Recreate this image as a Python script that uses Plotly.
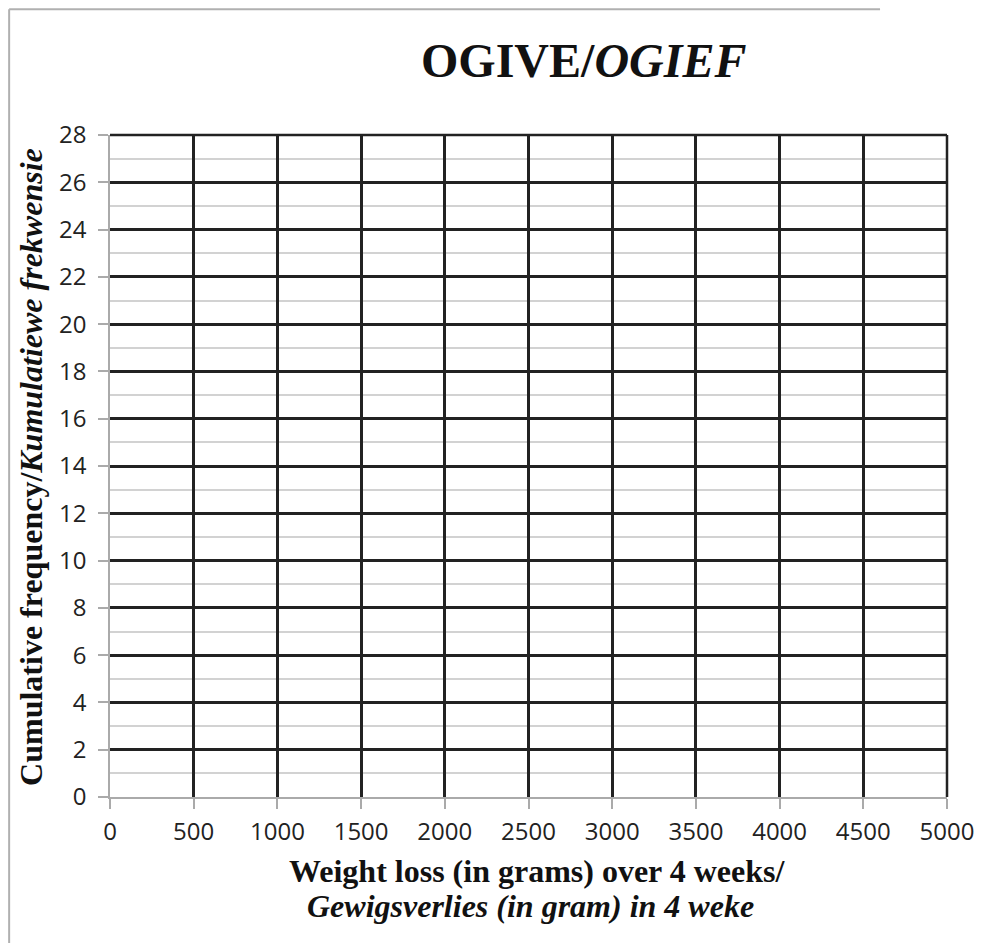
import plotly.graph_objects as go

# Blank ogive grid: axis ranges and tick labels
x_ticks = [0, 500, 1000, 1500, 2000, 2500, 3000, 3500, 4000, 4500, 5000]
y_ticks = [0, 2, 4, 6, 8, 10, 12, 14, 16, 18, 20, 22, 24, 26, 28]
x_range = [0, 5000]
y_range = [0, 28]

title_main = "<b>OGIVE/<i>OGIEF</i></b>"
x_title_1 = "<b>Weight loss (in grams) over 4 weeks/</b>"
x_title_2 = "<b><i>Gewigsverlies (in gram) in 4 weke</i></b>"
y_title = "<b>Cumulative frequency/<i>Kumulatiewe frekwensie</i></b>"

serif = "Liberation Serif, Times New Roman, serif"
tickfont = dict(family="Open Sans, sans-serif", size=24, color="#222")

fig = go.Figure()
fig.add_trace(go.Scatter(x=[], y=[], mode="lines", showlegend=False))

# page body has an 8px margin, so the figure is sized to fit the window
fig.update_layout(
    width=977, height=935,
    margin=dict(l=102, r=38, t=127, b=146),
    paper_bgcolor="white", plot_bgcolor="white",
    showlegend=False,
)

fig.update_xaxes(
    range=x_range, tickvals=x_ticks, ticktext=[str(v) for v in x_ticks],
    showgrid=True, gridcolor="#222", gridwidth=2.5,
    zeroline=False, showline=True, linecolor="#aaa", linewidth=1.5,
    ticks="outside", ticklen=10, tickcolor="#aaa", tickwidth=1.5,
    tickfont=tickfont, ticklabelstandoff=2,
    minor=dict(showgrid=False),
)
fig.update_yaxes(
    range=y_range, tickvals=y_ticks, ticktext=[str(v) for v in y_ticks],
    showgrid=True, gridcolor="#222", gridwidth=2.5,
    zeroline=False, showline=True, linecolor="#aaa", linewidth=1.5,
    ticks="outside", ticklen=10, tickcolor="#aaa", tickwidth=1.5,
    tickfont=tickfont, ticklabelstandoff=7,
    minor=dict(dtick=1, tick0=1, showgrid=True, gridcolor="#d2d2d2", gridwidth=1.5),
)

# frame: dark top and right edges of the plot area
fig.add_shape(type="line", xref="paper", yref="paper", x0=0, x1=1, y0=1, y1=1,
              line=dict(color="#222", width=2.5))
fig.add_shape(type="line", xref="paper", yref="paper", x0=1, x1=1, y0=0, y1=1,
              line=dict(color="#222", width=2.5))
# outer chart border (light grey, left and top)
fig.add_shape(type="line", xref="paper", yref="paper", x0=-0.1205, x1=-0.1205, y0=-0.23, y1=1.19,
              line=dict(color="#b0b0b0", width=2))
fig.add_shape(type="line", xref="paper", yref="paper", x0=-0.1205, x1=0.92, y0=1.19, y1=1.19,
              line=dict(color="#b0b0b0", width=2))

fig.add_annotation(text=title_main, xref="paper", yref="paper", x=0.566, y=1.113,
                   xanchor="center", yanchor="middle", showarrow=False,
                   font=dict(family=serif, size=48, color="#111"))
fig.add_annotation(text=x_title_1, xref="paper", yref="paper", x=0.5096, y=-0.1118,
                   xanchor="center", yanchor="middle", showarrow=False,
                   font=dict(family=serif, size=32, color="#111"))
fig.add_annotation(text=x_title_2, xref="paper", yref="paper", x=0.5018, y=-0.1647,
                   xanchor="center", yanchor="middle", showarrow=False,
                   font=dict(family=serif, size=32, color="#111"))
fig.add_annotation(text=y_title, xref="paper", yref="paper", x=-0.0945, y=0.4985,
                   xanchor="center", yanchor="middle", showarrow=False, textangle=-90,
                   font=dict(family=serif, size=32, color="#111"))

fig.write_html("out.html")
